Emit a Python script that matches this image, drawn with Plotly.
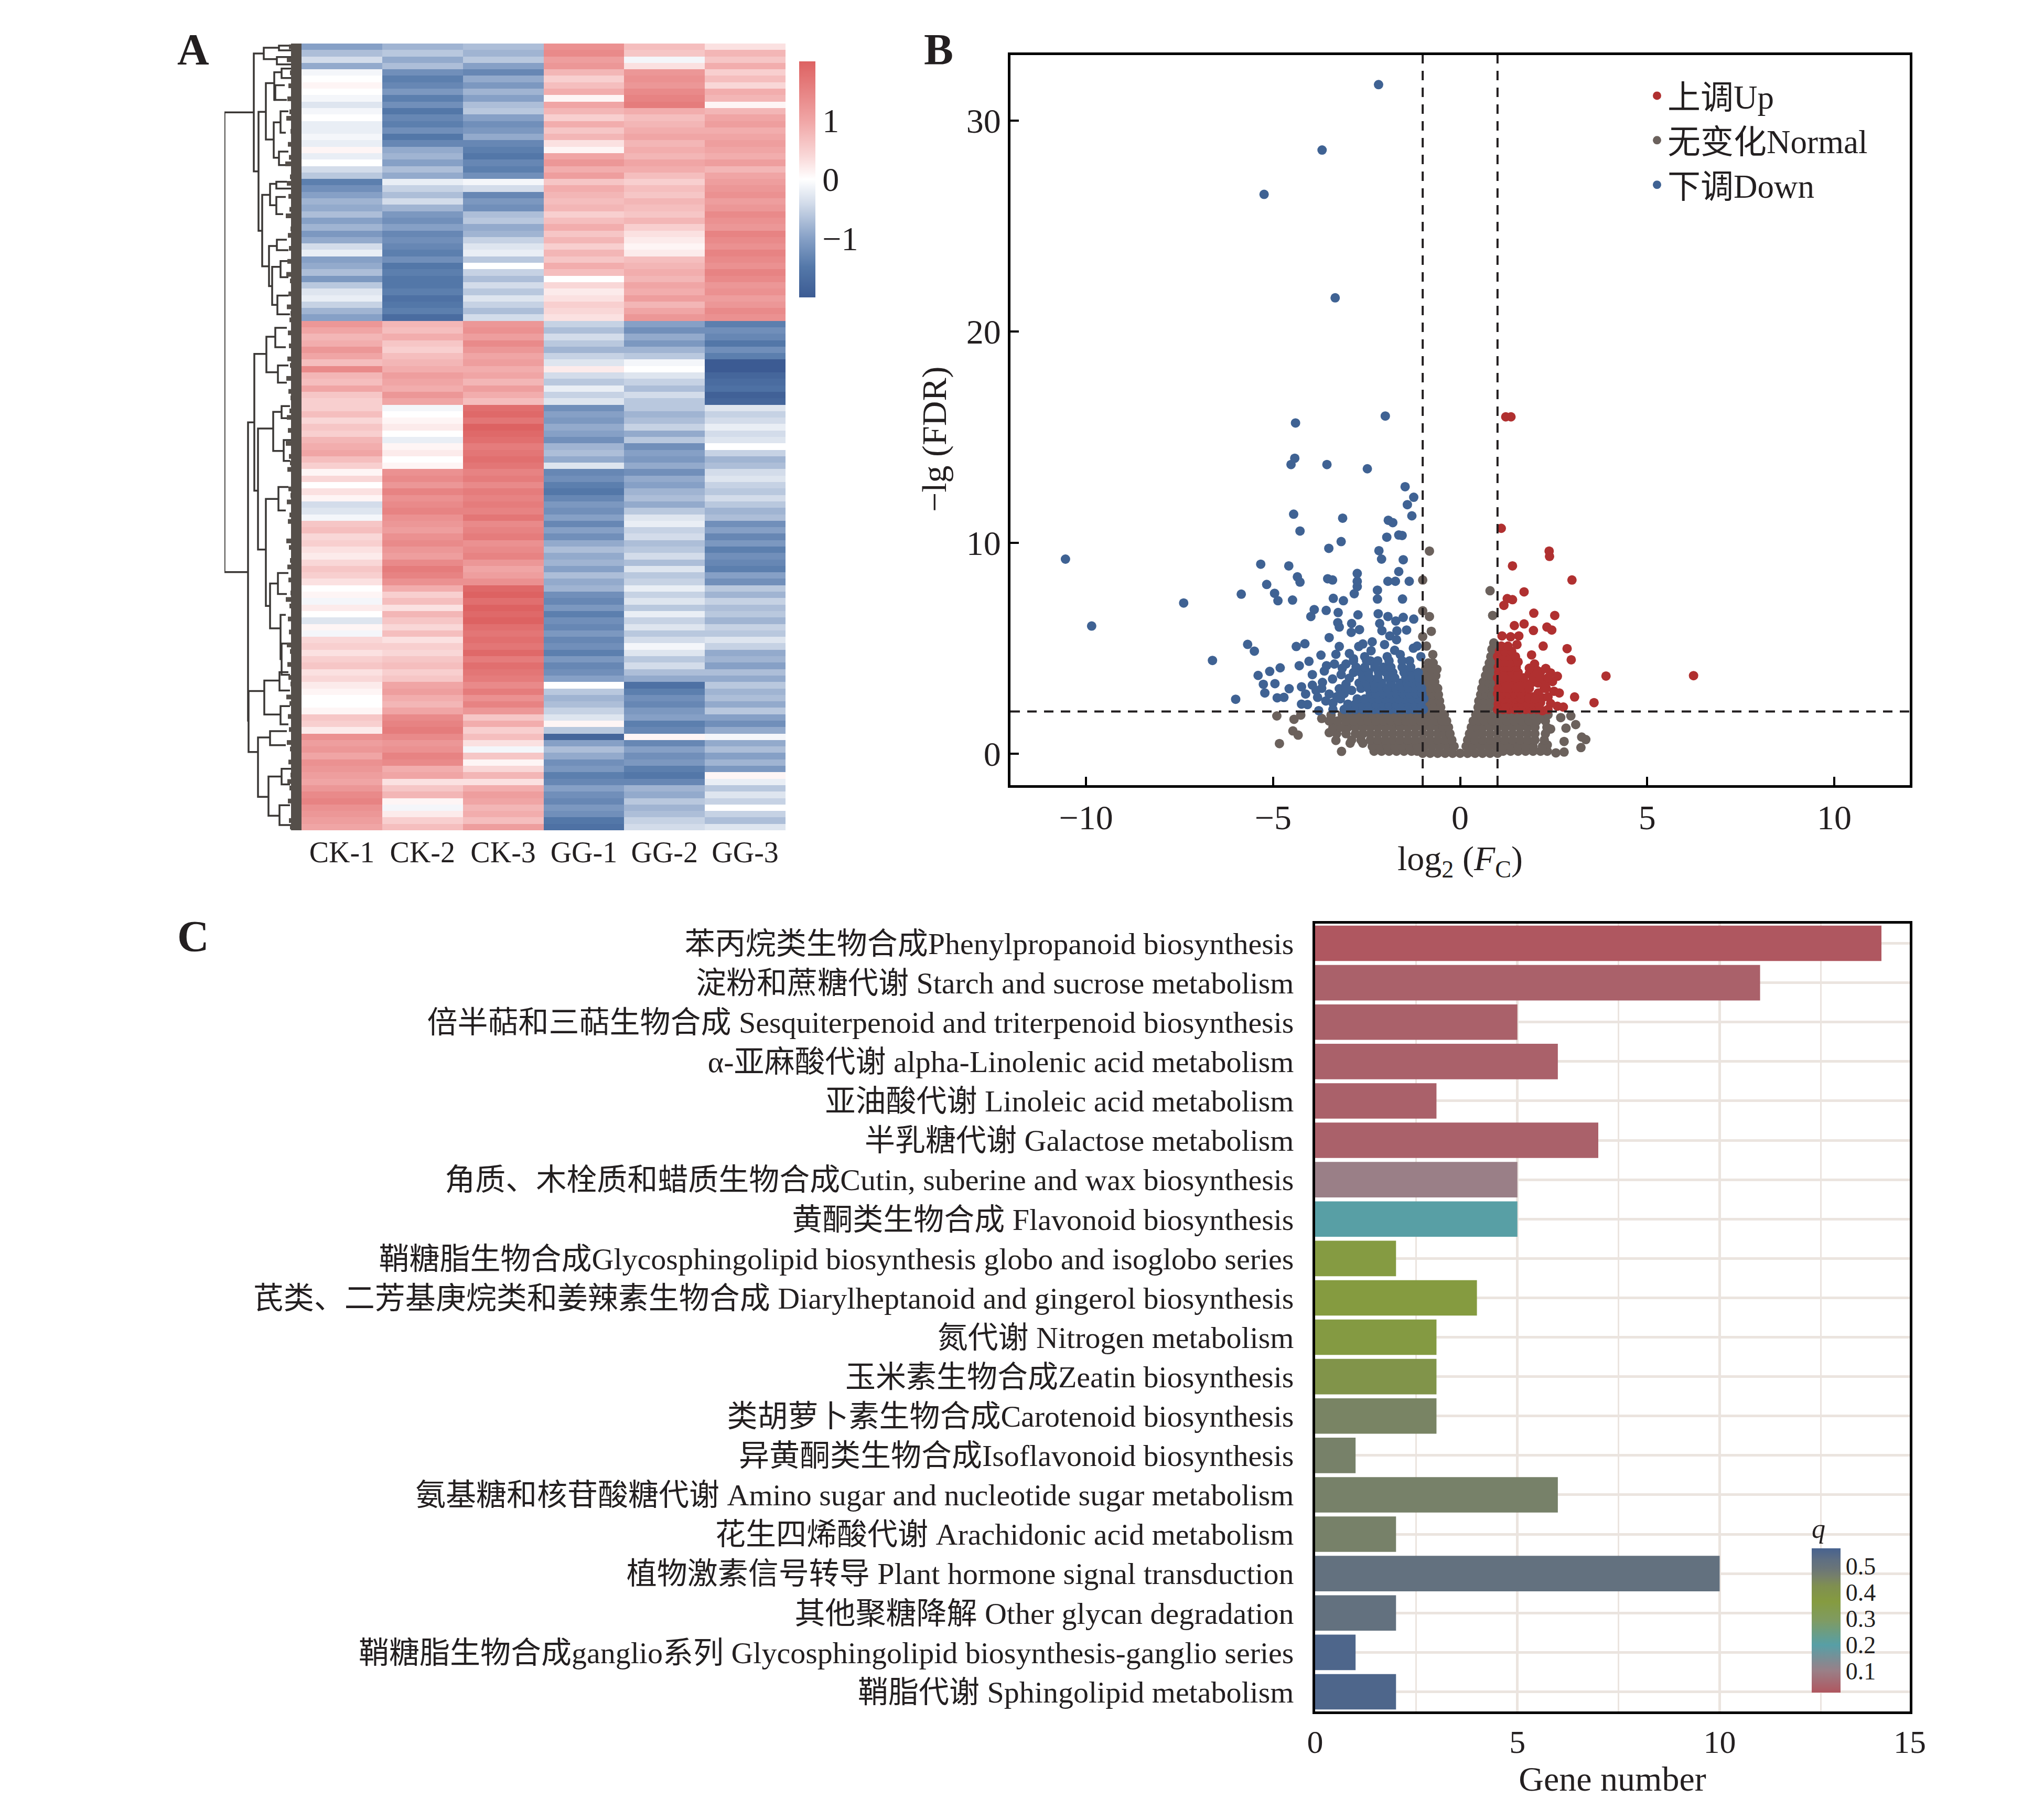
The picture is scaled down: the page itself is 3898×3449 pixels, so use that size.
import plotly.graph_objects as go

W, H = 3898, 3449
PAGE_INSET = 8  # the browser page puts this many pixels in front of the figure
FONT = "Liberation Serif, Noto Sans CJK SC, serif"
INK = "#231f20"

# ---------- Panel A data (values x10, read row-band by row-band) ----------
samples = ["CK-1", "CK-2", "CK-3", "GG-1", "GG-2", "GG-3"]
ck1 = [-10,-7,-4,-9,-1,0,1,0,-1,-3,-1,0,-2,-2,-1,-2,1,-2,0,-4,-6,-14,-12,-10,-8,-9,-7,-10,-8,-11,-9,-4,-2,-10,-9,-7,-11,-6,-3,-2,-5,-8,-10,
       12,10,8,9,12,10,7,14,8,7,10,6,5,5,7,4,6,5,8,9,10,7,5,1,4,0,3,1,-4,-3,-1,6,7,4,5,3,2,4,6,5,3,0,1,-1,2,0,-3,1,-1,4,5,3,5,6,3,4,2,1,0,0,1,6,5,2,13,11,12,10,13,12,11,10,12,14,15,13,12,11,10]
ck2 = [-8,-6,-9,-7,-12,-14,-13,-11,-14,-12,-15,-13,-14,-12,-15,-13,-9,-8,-10,-7,-9,-2,-5,-7,-4,-8,-11,-12,-10,-13,-12,-13,-14,-12,-15,-14,-15,-15,-14,-16,-15,-14,-17,
       8,7,9,6,5,7,8,9,11,10,9,12,10,-1,0,1,2,0,-2,1,2,0,1,13,14,12,15,13,14,15,13,12,11,13,14,12,11,14,16,15,13,9,5,7,3,8,6,4,7,3,5,4,6,7,5,6,10,11,9,8,10,14,15,16,14,12,13,15,14,9,10,3,6,8,1,-1,2,5,7]
ck3 = [-7,-8,-6,-10,-13,-9,-11,-8,-10,-7,-6,-10,-12,-11,-9,-13,-14,-15,-13,-14,-12,-1,-4,-13,-11,-12,-7,-6,-9,-8,-5,-3,-2,-6,0,-5,-7,-4,-6,-3,-5,-7,-4,
       12,13,11,14,12,10,11,9,10,8,11,9,7,18,19,17,20,19,18,16,17,18,17,15,16,14,16,15,16,15,17,14,15,16,13,14,15,12,10,11,13,19,20,18,21,19,20,18,17,18,17,19,16,18,17,16,14,16,13,15,12,6,9,5,7,3,-1,6,1,4,8,3,9,11,10,8,9,7,11]
gg1 = [13,14,11,12,8,5,7,9,1,10,8,5,9,6,8,3,1,10,12,9,11,6,9,8,7,8,5,7,9,6,8,5,8,6,9,7,0,4,2,3,5,4,3,
       -5,-7,-4,-6,-8,-5,-3,2,-4,-6,-2,-5,-3,-12,-10,-11,-9,-10,-12,-8,-7,-9,-3,-13,-12,-14,-15,-13,-11,-12,-10,-13,-10,-12,-9,-7,-9,-8,-10,-7,-9,-8,-12,-13,-11,-14,-12,-13,-11,-13,-12,-14,-11,-13,-12,-10,0,-6,-8,-7,-5,-3,1,-6,-18,-10,-7,-9,-12,-11,-14,-13,-10,-12,-13,-11,-12,-15,-16]
gg2 = [7,6,-1,3,12,13,12,14,15,16,9,7,8,9,10,8,9,8,10,9,7,5,7,6,8,7,6,8,5,3,2,1,2,7,8,9,8,10,9,11,8,10,12,
       -10,-12,-9,-11,-8,-6,-1,0,-3,-5,-7,-4,-6,-6,-8,-7,-5,-9,-6,-12,-10,-11,-9,-12,-9,-10,-8,-7,-9,-6,-3,-2,-5,-4,-7,-6,-4,-7,-3,-6,-5,-2,-5,-3,-6,-2,-5,-3,-6,-4,-1,-3,-6,-4,-7,-9,-16,-14,-12,-13,-11,-10,-14,-13,1,-13,-10,-12,-11,-14,-15,-13,-8,-9,-6,-8,-7,-5,-4]
gg3 = [3,8,6,9,5,7,4,9,8,1,8,10,11,9,10,11,10,9,11,8,10,11,12,13,11,12,14,13,12,15,14,13,15,14,13,15,14,12,13,11,12,14,13,
       -14,-12,-13,-15,-12,-14,-20,-20,-18,-17,-16,-19,-18,-3,-5,-4,-2,-4,-3,0,-5,-8,-7,-4,-3,-5,-6,-4,-6,-8,-7,-12,-10,-13,-11,-14,-12,-13,-14,-10,-12,-6,-8,-5,-7,-6,-8,-5,-6,-3,-5,-9,-8,-10,-7,-9,-6,-8,-7,-9,-6,-10,-12,-9,-1,-9,-7,-10,-8,-11,1,-2,-6,-3,-5,0,-5,-7,-3]
heat_columns = [ck1, ck2, ck3, gg1, gg2, gg3]
n_rows = min(len(c) for c in heat_columns)
heat_z = [[c[r] / 10 for c in heat_columns] for r in range(n_rows)]

# dendrogram merges: (parent distance, top child position, bottom child position, top child distance, bottom child distance)
dendro_merges = [
    (147,132,1013,91,102),(91,19,245,72,82),(72,8,30,43,47),(43,4,13,20,18),(47,26,40,20,15),
    (82,131,359,68,75),(68,76,184,52,53),(52,55,108,38,50),(38,48,66,20,18),(50,80,108,32,28),
    (53,151,219,40,43),(40,130,171,25,30),(43,207,233,25,22),(75,290,427,60,62),(60,269,310,48,48),
    (48,265,278,28,20),(48,294,327,30,35),(62,388,465,47,56),(47,376,396,28,25),(56,428,501,40,46),
    (40,417,448,22,25),(46,483,519,25,22),(102,726,1298,90,101),(90,595,857,67,83),(67,562,630,50,45),
    (50,545,582,28,30),(45,617,650,25,28),(83,738,970,54,68),(54,706,781,38,34),(38,695,718,22,20),
    (34,760,800,20,22),(68,873,1078,44,60),(44,850,895,25,30),(60,1035,1121,45,40),(45,1015,1055,25,28),
    (40,1095,1180,30,38),(38,1150,1210,20,22),(101,1241,1358,71,83),(71,1221,1286,42,40),(42,1205,1240,25,22),
    (40,1270,1305,22,25),(83,1330,1444,60,63),(60,1318,1345,28,30),(63,1405,1480,38,42),(38,1390,1420,20,22),
    (42,1460,1498,22,20),
]
dendro_leaf_lengths = [24,20,28,17,22,14,25,19,27,16,23,29,18,21,15,26,20,24,31,17,22,28,16,25,19,23,30,18,21,26,15,24,20,27,17,29,22,16,25,19,28,21,23,
                       18,26,20,24,16,27,22,19,29,17,25,21,15,23,28,18,26,20,30,16,24,22,27,19,17,25,21,28,15,23,26,18,20,29,24,16,22,27,19,25,17,21,30,23,18,26,15,24,20,28,22,16,27,19,25,21,17,29,23,18,26,20,24,16,28,22,19,25,17,21,27,23,15,26,18,20,24,22]
dendro_block_depth = [10]

# ---------- Panel B data ----------
fc_ticks = [-10, -5, 0, 5, 10]
fdr_ticks = [0, 10, 20, 30]
fc_thresholds = [-1, 1]
fdr_threshold = [2]

down_x = [-2.18,-3.69,-5.24,-3.34,-2.0,-4.4,-4.42,-4.52,-3.56,-2.48,-1.47,-1.24,-1.41,-1.29,-3.14,-4.45,-1.92,-1.8,-4.28,-1.96,-1.64,-1.55,-3.18,-3.51,-2.17,-2.1,-1.52,-10.55,-9.85,-7.39,
          -6.62,-6.0,-5.85,-5.68,-5.5,-5.4,-5.09,-4.81,-5.26,-5.22,-4.95,-4.89,-4.71,-4.57,-5.33,-4.58,-5.17,-4.96,-4.87,-4.48,-4.35,-4.28,-4.38,-4.15,-4.3,-4.04,-4.24,-4.13,-4.24,-4.08,-3.78,-3.95,-3.95,-3.68,-3.81,-3.59,-3.41,-3.23,-3.5,-3.18,-2.96,-3.63,-3.57,-3.36,-3.05,-3.72,-3.32,-2.96,-3.23,-2.71,-2.38,-2.02,-1.88,-1.69,-1.43,-3.5,-3.23,-2.91,-2.69,-2.9,-3.27,-2.15,-2.09,-1.72,-1.52,-1.24,-2.19,-1.93,-2.73,-3.26,-3.58,-3.9,-3.99,-3.39,-3.12,-2.83,-2.75,-2.75,-2.75,-2.21,-2.21,-1.54,-3.54,-3.41,-1.93,-1.73,-1.36,-1.64,
          -3.85,-3.7,-3.4,-3.3,-3.05,-2.9,-2.85,-3.15,-2.55,-2.4,-2.6,-2.35,-1.75,-1.6,-1.25,-1.15,-1.95,-1.7,-1.05]
down_y = [31.7,28.6,26.5,21.6,16.0,15.67,14.0,13.7,13.7,13.5,12.65,12.15,11.8,11.27,11.16,11.35,11.06,10.95,10.55,10.26,10.36,10.34,10.05,9.73,9.62,9.22,9.19,9.22,6.05,7.14,
          4.42,2.58,7.56,5.18,4.86,3.71,3.9,4.07,3.29,2.88,3.32,2.65,2.67,3.08,8.98,8.9,8.02,7.6,7.25,7.28,8.38,8.13,5.08,5.21,4.17,4.38,3.17,2.83,2.35,2.33,2.04,3.75,3.25,3.38,2.67,2.5,3.54,3.08,2.83,3.75,3.58,3.92,4.17,4.25,4.25,4.67,4.71,4.75,5.08,5.08,4.88,5.17,5.58,5.82,5.86,5.5,6.0,5.75,5.88,6.17,6.21,6.17,5.83,6.29,6.46,6.38,6.63,6.5,6.58,6.69,6.79,6.83,6.5,7.36,7.25,7.58,7.92,8.17,8.54,7.75,7.33,7.33,8.29,8.23,8.17,8.17,8.17,8.63,
          3.0,3.1,2.4,2.7,3.3,3.0,4.5,4.05,4.6,4.4,5.2,5.3,4.9,4.7,5.0,5.1,4.6,5.4,4.6]
down_rows = [
    (2.1,[-3.4,-3.1,-2.95,-2.8,-2.6,-2.45,-2.3,-2.15,-2.0,-1.85,-1.7,-1.55,-1.4,-1.25,-1.1,-0.98]),
    (2.35,[-3.0,-2.8,-2.62,-2.42,-2.25,-2.05,-1.9,-1.72,-1.55,-1.38,-1.22,-1.05]),
    (2.6,[-3.2,-2.75,-2.55,-2.35,-2.18,-2.0,-1.82,-1.65,-1.48,-1.3,-1.12,-0.97]),
    (2.85,[-3.1,-2.4,-2.25,-2.05,-1.88,-1.7,-1.52,-1.35,-1.18,-1.02]),
    (3.1,[-3.05,-2.65,-2.45,-2.28,-2.1,-1.95,-1.72,-1.55,-1.38,-1.2,-1.03]),
    (3.35,[-2.7,-2.5,-2.3,-2.1,-1.85,-1.6,-1.42,-1.25,-1.08]),
    (3.6,[-2.6,-2.42,-2.2,-1.92,-1.75,-1.45,-1.28,-1.1]),
    (3.85,[-2.85,-2.65,-2.45,-2.18,-1.98,-1.8,-1.5,-1.3,-1.12]),
    (4.1,[-2.78,-2.55,-2.28,-2.05,-1.85,-1.55,-1.32]),
    (4.4,[-2.85,-2.5,-2.2,-1.9,-1.55,-1.35]),
]
up_x = [1.22,1.36,1.1,2.38,2.39,1.4,2.99,1.71,1.26,1.4,1.17,1.97,2.53,1.71,1.45,2.32,2.45,1.96,6.24,3.9,3.58,3.06,2.86,2.97,2.22,1.12,1.35,1.57,1.52,1.91,1.99,2.29,2.15,2.42,2.6,2.47,2.51,2.65,2.09,1.77,2.42,2.6,2.76,2.15,2.2,
        1.85,2.05,2.3,1.8,1.95,2.2,2.35,1.7,1.85]
up_y = [15.96,15.96,10.68,9.6,9.35,8.9,8.23,7.67,7.35,7.3,7.03,6.66,6.55,6.15,6.07,6.0,5.86,5.84,3.7,3.68,2.42,2.69,4.98,4.45,5.1,5.58,5.54,5.58,5.17,4.68,4.25,4.04,3.88,3.83,3.67,3.42,2.96,2.88,2.88,2.83,2.38,2.25,2.21,2.42,2.04,
        3.8,3.95,3.1,2.65,2.7,2.65,2.7,3.0,4.05]
up_rows = [
    (2.1,[1.0,1.15,1.3,1.45,1.6,1.75,1.9,2.05,2.35]),
    (2.35,[1.02,1.2,1.35,1.5,1.65,1.8,1.95,2.1]),
    (2.6,[1.03,1.18,1.32,1.48,1.62,1.85,2.0]),
    (2.85,[1.0,1.15,1.3,1.45,1.62]),
    (3.1,[1.02,1.18,1.35,1.5,1.68,1.85,2.25]),
    (3.35,[1.05,1.2,1.38,1.55,1.72,1.9,2.08,2.3]),
    (3.6,[1.0,1.15,1.32,1.5,1.7,1.95,2.15,2.35]),
    (3.85,[1.03,1.2,1.38,1.55]),
    (4.1,[1.02,1.18,1.32,1.5]),
    (4.35,[1.05,1.22,1.4,1.55]),
    (4.6,[1.0,1.18,1.35,1.48]),
    (4.85,[1.05,1.2,1.38]),
    (5.1,[1.1,1.28]),
]
normal_x = [-0.82,-1.0,0.8,-0.82,-1.0,0.87,-0.77,-1.0,-0.9,-0.73,3.09,2.83,2.96,2.69,2.42,3.25,3.36,3.23,2.78,2.78,2.56,2.33,2.33,-4.9,-4.44,-4.26,-4.47,-4.33,-4.83,-3.7,-3.45,-3.5,-3.32,-3.17,-2.94,-2.6]
normal_y = [9.6,8.23,7.72,6.5,6.77,6.55,5.8,5.55,5.1,4.7,1.38,1.21,1.79,1.71,1.17,0.79,0.67,0.29,0.58,0.08,0.04,0.12,0.42,1.79,1.63,1.83,1.08,0.88,0.48,1.67,1.83,1.0,0.63,0.11,0.5,0.5]
normal_rows = [
    (0.02,[-1.0,-0.8,-0.6,-0.4,-0.2,0.0,0.2,0.4,0.6,0.8,1.0]),
    (0.12,[-2.3,-2.1,-1.9,-1.7,-1.5,-1.3,-1.15,1.15,1.35,1.55,1.75,1.95,2.15]),
    (0.35,[-2.35,-2.15,-1.95,-1.75,-1.55,-1.35,-1.15,-0.95,-0.75,-0.55,-0.35,-0.16,0.16,0.35,0.55,0.75,0.95,1.15,1.35,1.55,1.75,1.95,2.2]),
    (0.65,[-2.9,-2.65,-2.4,-2.2,-2.0,-1.8,-1.6,-1.4,-1.2,-1.0,-0.8,-0.6,-0.4,-0.22,0.2,0.4,0.6,0.8,1.0,1.2,1.4,1.6,1.8,2.0,2.25]),
    (0.95,[-3.3,-3.05,-2.8,-2.6,-2.4,-2.2,-2.0,-1.8,-1.6,-1.4,-1.2,-1.0,-0.8,-0.6,-0.42,-0.27,0.25,0.42,0.6,0.8,1.0,1.2,1.4,1.6,1.8,2.0,2.28]),
    (1.25,[-3.4,-3.2,-3.0,-2.8,-2.6,-2.4,-2.2,-2.0,-1.8,-1.6,-1.4,-1.2,-1.0,-0.8,-0.6,-0.45,-0.31,0.3,0.45,0.6,0.8,1.0,1.2,1.4,1.6,1.8,2.0,2.32]),
    (1.55,[-3.5,-3.28,-3.05,-2.85,-2.65,-2.45,-2.25,-2.05,-1.85,-1.65,-1.45,-1.25,-1.05,-0.85,-0.65,-0.48,-0.36,0.35,0.5,0.65,0.85,1.05,1.25,1.45,1.65,1.85,2.05,2.28]),
    (1.85,[-3.15,-2.95,-2.75,-2.55,-2.35,-2.15,-1.95,-1.75,-1.55,-1.35,-1.15,-0.95,-0.75,-0.58,-0.42,0.42,0.55,0.75,0.95,1.15,1.35,1.55,1.75,1.95,2.15,2.35]),
    (2.2,[-1.0,-0.85,-0.7,-0.52,0.48,0.65,0.8,0.95]),
    (2.5,[-1.0,-0.85,-0.7,-0.55,0.5,0.65,0.8,0.95]),
    (2.8,[-1.0,-0.85,-0.72,-0.58,0.55,0.7,0.85]),
    (3.1,[-1.0,-0.85,-0.72,-0.6,0.58,0.72,0.88]),
    (3.4,[-0.95,-0.82,-0.68,0.62,0.75,0.9]),
    (3.7,[-0.95,-0.82,-0.65,0.68,0.82,0.95]),
    (4.0,[-0.92,-0.76,-0.62,0.72,0.85]),
    (4.3,[-0.85,-0.72,0.78,0.9]),
    (4.6,[0.82,0.95]),
    (4.95,[0.85,0.98]),
    (5.25,[0.9]),
]

# ---------- Panel C data ----------
pathways = [
    "苯丙烷类生物合成Phenylpropanoid biosynthesis",
    "淀粉和蔗糖代谢 Starch and sucrose metabolism",
    "倍半萜和三萜生物合成 Sesquiterpenoid and triterpenoid biosynthesis",
    "α-亚麻酸代谢 alpha-Linolenic acid metabolism",
    "亚油酸代谢 Linoleic acid metabolism",
    "半乳糖代谢 Galactose metabolism",
    "角质、木栓质和蜡质生物合成Cutin, suberine and wax biosynthesis",
    "黄酮类生物合成 Flavonoid biosynthesis",
    "鞘糖脂生物合成Glycosphingolipid biosynthesis globo and isoglobo series",
    "芪类、二芳基庚烷类和姜辣素生物合成 Diarylheptanoid and gingerol biosynthesis",
    "氮代谢 Nitrogen metabolism",
    "玉米素生物合成Zeatin biosynthesis",
    "类胡萝卜素生物合成Carotenoid biosynthesis",
    "异黄酮类生物合成Isoflavonoid biosynthesis",
    "氨基糖和核苷酸糖代谢 Amino sugar and nucleotide sugar metabolism",
    "花生四烯酸代谢 Arachidonic acid metabolism",
    "植物激素信号转导 Plant hormone signal transduction",
    "其他聚糖降解 Other glycan degradation",
    "鞘糖脂生物合成ganglio系列 Glycosphingolipid biosynthesis-ganglio series",
    "鞘脂代谢 Sphingolipid metabolism",
]
gene_number = [14, 11, 5, 6, 3, 7, 5, 5, 2, 4, 3, 3, 3, 1, 6, 2, 10, 2, 1, 2]
q_value = [0.02, 0.04, 0.04, 0.04, 0.04, 0.04, 0.10, 0.20, 0.36, 0.365, 0.37, 0.40, 0.45, 0.457, 0.457, 0.457, 0.512, 0.512, 0.555, 0.555]

# ---------- Expand row tables ----------
def expand(xs, ys, rows):
    out_x, out_y = list(xs), list(ys)
    for level, values in rows:
        out_x += values
        out_y += [level] * len(values)
    return out_x, out_y

nx, ny = expand(normal_x, normal_y, normal_rows)
dx, dy = expand(down_x, down_y, down_rows)
ux, uy = expand(up_x, up_y, up_rows)

# ---------- Figure ----------
fig = go.Figure()

def fx(px): return (px - PAGE_INSET) / W
def fy(px): return 1 - (px - PAGE_INSET) / H
def px_x(a, b): return [fx(a), fx(b)]
def px_y(top, bottom): return [fy(bottom), fy(top)]

heat_scale = [[0, "#3c5b93"], [0.13, "#5478a9"], [0.25, "#86a0c6"], [0.4, "#d3dcea"], [0.5, "#ffffff"],
              [0.6, "#f9d7d7"], [0.75, "#f0a5a5"], [0.9, "#e57c7c"], [1, "#dd6262"]]
fig.add_trace(go.Heatmap(
    z=heat_z, x=samples, y=list(range(n_rows)), xaxis="x", yaxis="y",
    colorscale=heat_scale, zmin=-2, zmax=2, showlegend=False, hoverinfo="skip",
    colorbar=dict(x=fx(1524), xanchor="left", xpad=0, y=fy(117), yanchor="top", ypad=0,
                  len=450 / H, lenmode="fraction", thickness=31, thicknessmode="pixels",
                  outlinewidth=0, ticks="", tickvals=[-1, 0, 1], tickfont=dict(family=FONT, size=64, color=INK)),
))

# Dendrogram
lx, ly = [], []
for parent, top, bottom, d_top, d_bottom in dendro_merges:
    lx += [d_top, parent, parent, d_bottom, None]
    ly += [top, top, bottom, bottom, None]
fig.add_trace(go.Scatter(x=lx, y=ly, mode="lines", xaxis="x2", yaxis="y2", line=dict(color="#3a3735", width=3.5),
                         showlegend=False, hoverinfo="skip"))
leaf_x, leaf_y = [], []
step = 1508 / len(dendro_leaf_lengths)
for i, length in enumerate(dendro_leaf_lengths):
    leaf_x += [0, length, None]
    leaf_y += [(i + 0.5) * step] * 2 + [None]
fig.add_trace(go.Scatter(x=leaf_x, y=leaf_y, mode="lines", xaxis="x2", yaxis="y2", line=dict(color="#554f4a", width=9),
                         showlegend=False, hoverinfo="skip"))
fig.add_trace(go.Scatter(x=dendro_block_depth * 2, y=[0, 1508], mode="lines", xaxis="x2", yaxis="y2",
                         line=dict(color="#554f4a", width=20), showlegend=False, hoverinfo="skip"))

# Volcano
MS = 18
fig.add_trace(go.Scatter(x=nx, y=ny, mode="markers", name="无变化Normal", xaxis="x3", yaxis="y3", legendrank=2,
                         marker=dict(color="#6b615c", size=MS), cliponaxis=True))
fig.add_trace(go.Scatter(x=dx, y=dy, mode="markers", name="下调Down", xaxis="x3", yaxis="y3", legendrank=3,
                         marker=dict(color="#3f6293", size=MS)))
fig.add_trace(go.Scatter(x=ux, y=uy, mode="markers", name="上调Up", xaxis="x3", yaxis="y3", legendrank=1,
                         marker=dict(color="#b03030", size=MS)))
dash = dict(color="#231f20", width=4, dash="18px,14px")
for t in fc_thresholds:
    fig.add_shape(type="line", xref="x3", yref="y3 domain", x0=t, x1=t, y0=0, y1=1, line=dash, layer="above")
for t in fdr_threshold:
    fig.add_shape(type="line", xref="x3 domain", yref="y3", x0=0, x1=1, y0=t, y1=t, line=dash, layer="above")

# Bars
q_scale = [[0, "#b0565f"], [0.15, "#9a7f87"], [0.33, "#579fa6"], [0.5, "#7f9b62"], [0.63, "#859b40"],
           [0.74, "#7f8f50"], [0.8, "#778169"], [0.86, "#6a7578"], [0.92, "#5f6f82"], [1, "#47628f"]]
fig.add_trace(go.Bar(
    x=gene_number, y=pathways, orientation="h", xaxis="x4", yaxis="y4", width=0.9, showlegend=False,
    marker=dict(color=q_value, colorscale=q_scale, cmin=0.017, cmax=0.567, line=dict(width=0),
                colorbar=dict(x=fx(3455), xanchor="left", xpad=0, y=fy(2890), yanchor="top", ypad=0,
                              len=337 / H, lenmode="fraction", thickness=55, thicknessmode="pixels",
                              outlinewidth=0, ticks="", tickvals=[0.1, 0.2, 0.3, 0.4, 0.5],
                              ticklabelposition="outside", tickfont=dict(family=FONT, size=46, color=INK),
                              title=dict(text="<i>q</i>", side="top", font=dict(family=FONT, size=52, color=INK))))
))

annots = [dict(text=t, x=fx(x), y=fy(y), xref="paper", yref="paper", showarrow=False, xanchor="center", yanchor="middle",
               font=dict(family=FONT, size=84, color=INK, weight="bold"))
          for t, x, y in [("A", 368, 94), ("B", 1790, 94), ("C", 368, 1785)]]
annots.append(dict(text="−lg (FDR)", x=fx(1782), y=fy(838), xref="paper", yref="paper", showarrow=False,
                   xanchor="center", yanchor="middle", textangle=-90, font=dict(family=FONT, size=66, color=INK)))

axis_line = dict(showline=True, linecolor="#000000", linewidth=5, mirror=True, showgrid=False, zeroline=False)
fig.update_layout(
    width=W, height=H, margin=dict(l=0, r=0, t=0, b=0, autoexpand=False), paper_bgcolor="white", plot_bgcolor="white",
    font=dict(family=FONT, color=INK), annotations=annots, barmode="overlay",
    xaxis=dict(domain=px_x(575, 1498), showgrid=False, zeroline=False, ticks="", showline=False,
               tickfont=dict(size=56, family=FONT, color=INK), ticklabelstandoff=4),
    yaxis=dict(domain=px_y(83, 1583), autorange="reversed", visible=False),
    xaxis2=dict(domain=px_x(428, 575), range=[147, 0], visible=False, anchor="y2"),
    yaxis2=dict(domain=px_y(83, 1583), range=[1508, 0], visible=False, anchor="x2"),
    xaxis3=dict(domain=px_x(1927, 3642), range=[-12.02, 12.02], anchor="y3", tickvals=fc_ticks, ticks="inside",
                ticklen=16, tickwidth=4, tickcolor="#000", tickfont=dict(size=66, family=FONT, color=INK),
                title=dict(text="log<sub>2</sub> (<i>F</i><sub>C</sub>)", font=dict(size=66, family=FONT, color=INK), standoff=20),
                **axis_line),
    yaxis3=dict(domain=px_y(105, 1497), range=[-1.49, 33.1], anchor="x3", tickvals=fdr_ticks, ticks="inside",
                ticklen=16, tickwidth=4, tickcolor="#000", tickfont=dict(size=66, family=FONT, color=INK),
                **axis_line),
    xaxis4=dict(domain=px_x(2508, 3642), range=[0, 14.7], anchor="y4", tickvals=[0, 5, 10, 14.7], ticktext=["0", "5", "10", "15"],
                ticks="", tickfont=dict(size=62, family=FONT, color=INK),
                title=dict(text="Gene number", font=dict(size=66, family=FONT, color=INK), standoff=10),
                showline=True, linecolor="#000000", linewidth=5, mirror=True, zeroline=False,
                showgrid=True, gridcolor="#ebe4df", gridwidth=5,
                minor=dict(tickvals=[2.5, 7.5, 12.5], showgrid=True, gridcolor="#ebe4df", gridwidth=3)),
    yaxis4=dict(domain=px_y(1761, 3263), autorange="reversed", anchor="x4", categoryorder="array", categoryarray=pathways,
                ticks="outside", ticklen=24, tickcolor="rgba(0,0,0,0)", tickfont=dict(size=58, family=FONT, color=INK),
                showline=True, linecolor="#000000", linewidth=5, mirror=True, zeroline=False,
                showgrid=True, gridcolor="#ebe4df", gridwidth=5),
    legend=dict(x=fx(3140), y=fy(135), xanchor="left", yanchor="top", bgcolor="rgba(0,0,0,0)",
                font=dict(family=FONT, size=63, color=INK), itemwidth=30, tracegroupgap=0),
)
fig.write_html("out.html")
